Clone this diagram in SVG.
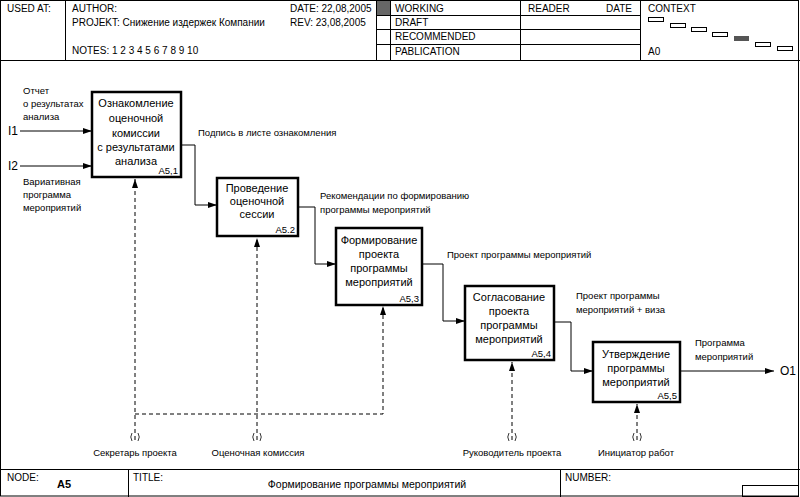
<svg xmlns="http://www.w3.org/2000/svg" width="800" height="497" viewBox="0 0 800 497">
<style>
text{font-family:"Liberation Sans",Arial,sans-serif;fill:#000}
.h{font-size:10px}
.l{font-size:9.5px}
.io{font-size:12px}
.b{font-size:11px;text-anchor:middle}
.n{font-size:9.5px;text-anchor:end}
.frame{fill:none;stroke:#000;stroke-width:1}
.box{fill:#fff;stroke:#000;stroke-width:2.5}
.c{fill:none;stroke:#000;stroke-width:1}
.d{fill:none;stroke:#000;stroke-width:1;stroke-dasharray:4 3}
.t{fill:none;stroke:#000;stroke-width:0.8}
</style>
<defs>
<marker id="ah" markerWidth="9" markerHeight="6" refX="9" refY="3" orient="auto" markerUnits="userSpaceOnUse">
<path d="M0,0 L9,3 L0,6 z" fill="#000"/>
</marker>
</defs>
<rect width="800" height="497" fill="#fff"/>
<g id="header">
<rect class="frame" x="0.5" y="0.5" width="798" height="495.5"/>
<line class="frame" x1="0" y1="60.5" x2="800" y2="60.5"/>
<line class="frame" x1="65.5" y1="0" x2="65.5" y2="60"/>
<line class="frame" x1="376.5" y1="0" x2="376.5" y2="60"/>
<line class="frame" x1="390.5" y1="0" x2="390.5" y2="60"/>
<line class="frame" x1="520.5" y1="0" x2="520.5" y2="60"/>
<line class="frame" x1="640.5" y1="0" x2="640.5" y2="60"/>
<line class="frame" x1="376" y1="15.5" x2="640" y2="15.5"/>
<line class="frame" x1="376" y1="29.5" x2="640" y2="29.5"/>
<line class="frame" x1="376" y1="44.5" x2="640" y2="44.5"/>
<rect x="377" y="1" width="13" height="14" fill="#666"/>
<text class="h" x="7" y="12">USED AT:</text>
<text class="h" x="72" y="12">AUTHOR:</text>
<text class="h" x="290" y="12">DATE: 22,08,2005</text>
<text class="h" x="72" y="26">PROJEKT: Снижение издержек Компании</text>
<text class="h" x="290" y="26">REV:   23,08,2005</text>
<text class="h" x="72" y="54">NOTES: 1 2 3 4 5 6 7 8 9 10</text>
<text class="h" x="395" y="12">WORKING</text>
<text class="h" x="395" y="26">DRAFT</text>
<text class="h" x="395" y="40">RECOMMENDED</text>
<text class="h" x="395" y="55">PABLICATION</text>
<text class="h" x="528" y="12">READER</text>
<text class="h" x="632" y="12" text-anchor="end">DATE</text>
<text class="h" x="648" y="12">CONTEXT</text>
<text class="h" x="648" y="55">A0</text>
<rect class="frame" x="648.5" y="17.5" width="15" height="4"/>
<rect class="frame" x="670.5" y="23.5" width="15" height="4"/>
<rect class="frame" x="691.5" y="27.5" width="15" height="4"/>
<rect class="frame" x="712.5" y="32.5" width="15" height="4"/>
<rect x="734" y="36" width="15" height="5" fill="#555"/>
<rect class="frame" x="755.5" y="42.5" width="15" height="4"/>
<rect class="frame" x="777.5" y="46.5" width="15" height="4"/>
</g>
<g id="footer">
<line class="frame" x1="0" y1="469.5" x2="800" y2="469.5"/>
<line class="frame" x1="128.5" y1="469" x2="128.5" y2="497"/>
<line class="frame" x1="560.5" y1="469" x2="560.5" y2="497"/>
<rect class="frame" x="742.5" y="485.5" width="56" height="11"/>
<text class="h" x="7" y="481">NODE:</text>
<text x="57" y="488" font-size="11" font-weight="bold">A5</text>
<text class="h" x="133" y="481">TITLE:</text>
<text x="367" y="488" font-size="10.5" text-anchor="middle">Формирование программы  мероприятий</text>
<text class="h" x="565" y="481">NUMBER:</text>
</g>
<g id="connectors">
<path class="c" d="M20,131 H92" marker-end="url(#ah)"/>
<path class="c" d="M20,166 H92" marker-end="url(#ah)"/>
<path class="c" d="M181,145 H195 V205 H217" marker-end="url(#ah)"/>
<path class="c" d="M298,207 H315 V264 H336" marker-end="url(#ah)"/>
<path class="c" d="M422,264 H443 V321 H465" marker-end="url(#ah)"/>
<path class="c" d="M554,322 H571 V371 H593" marker-end="url(#ah)"/>
<path class="c" d="M680,371 H774" marker-end="url(#ah)"/>
<path class="d" d="M135,440 V179" marker-end="url(#ah)"/>
<path class="d" d="M135,414 H383 V306" marker-end="url(#ah)"/>
<path class="d" d="M257,440 V238" marker-end="url(#ah)"/>
<path class="d" d="M512,440 V362" marker-end="url(#ah)"/>
<path class="d" d="M637,440 V404" marker-end="url(#ah)"/>
<path class="t" d="M132,433 Q129.5,437 132,441 M138,433 Q140.5,437 138,441"/>
<path class="t" d="M254,433 Q251.5,437 254,441 M260,433 Q262.5,437 260,441"/>
<path class="t" d="M509,433 Q506.5,437 509,441 M515,433 Q517.5,437 515,441"/>
<path class="t" d="M634,433 Q631.5,437 634,441 M640,433 Q642.5,437 640,441"/>
<text class="io" x="8" y="135">I1</text>
<text class="io" x="8" y="170">I2</text>
<text class="l" x="23" y="94">Отчет</text>
<text class="l" x="23" y="107">о результатах</text>
<text class="l" x="23" y="120">анализа</text>
<text class="l" x="23" y="185">Вариативная</text>
<text class="l" x="23" y="198">программа</text>
<text class="l" x="23" y="211">мероприятий</text>
<text class="l" x="198" y="136">Подпись в листе ознакомления</text>
<text class="l" x="320" y="199">Рекомендации по формированию</text>
<text class="l" x="320" y="213">программы мероприятий</text>
<text class="l" x="447" y="258">Проект программы мероприятий</text>
<text class="l" x="576" y="299">Проект программы</text>
<text class="l" x="576" y="313">мероприятий + виза</text>
<text class="l" x="695" y="346">Программа</text>
<text class="l" x="695" y="360">мероприятий</text>
<text class="io" x="780" y="375">O1</text>
<text class="l" x="135" y="456" text-anchor="middle">Секретарь проекта</text>
<text class="l" x="258" y="456" text-anchor="middle">Оценочная комиссия</text>
<text class="l" x="512" y="456" text-anchor="middle">Руководитель проекта</text>
<text class="l" x="636" y="456" text-anchor="middle">Инициатор работ</text>
</g>
<g id="A5.1">
<rect class="box" x="92" y="92" width="89" height="85"/>
<text class="b" x="136" y="107">Ознакомление</text>
<text class="b" x="136" y="122">оценочной</text>
<text class="b" x="136" y="137">комиссии</text>
<text class="b" x="136" y="151">с результатами</text>
<text class="b" x="136" y="165">анализа</text>
<text class="n" x="178" y="174">A5,1</text>
</g>
<g id="A5.2">
<rect class="box" x="217" y="178" width="81" height="58"/>
<text class="b" x="257" y="192">Проведение</text>
<text class="b" x="257" y="205">оценочной</text>
<text class="b" x="257" y="218">сессии</text>
<text class="n" x="295" y="233">A5.2</text>
</g>
<g id="A5.3">
<rect class="box" x="336" y="228" width="86" height="77"/>
<text class="b" x="379" y="244">Формирование</text>
<text class="b" x="379" y="258">проекта</text>
<text class="b" x="379" y="272">программы</text>
<text class="b" x="379" y="286">мероприятий</text>
<text class="n" x="419" y="302">A5,3</text>
</g>
<g id="A5.4">
<rect class="box" x="465" y="286" width="89" height="74"/>
<text class="b" x="509" y="301">Согласование</text>
<text class="b" x="509" y="315">проекта</text>
<text class="b" x="509" y="329">программы</text>
<text class="b" x="509" y="343">мероприятий</text>
<text class="n" x="551" y="357">A5,4</text>
</g>
<g id="A5.5">
<rect class="box" x="593" y="342" width="87" height="60"/>
<text class="b" x="636" y="358">Утверждение</text>
<text class="b" x="636" y="372">программы</text>
<text class="b" x="636" y="386">мероприятий</text>
<text class="n" x="677" y="399">A5,5</text>
</g>
</svg>
